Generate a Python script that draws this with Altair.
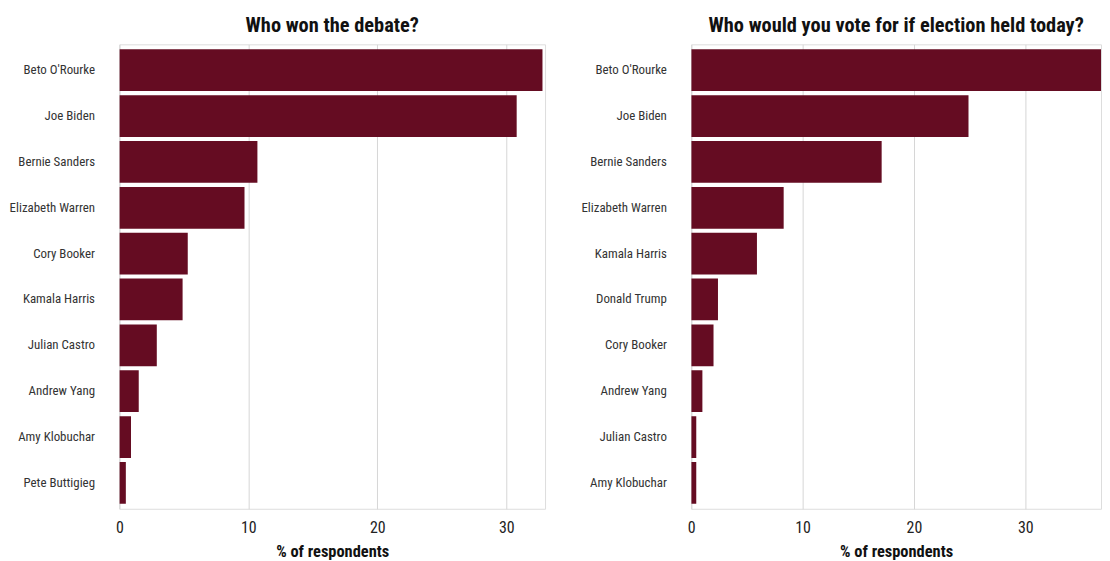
import altair as alt
import pandas as pd

debate_names = ["Beto O'Rourke", "Joe Biden", "Bernie Sanders", "Elizabeth Warren", "Cory Booker",
                "Kamala Harris", "Julian Castro", "Andrew Yang", "Amy Klobuchar", "Pete Buttigieg"]
debate_vals = [32.8, 30.8, 10.7, 9.7, 5.3, 4.9, 2.9, 1.5, 0.9, 0.5]

vote_names = ["Beto O'Rourke", "Joe Biden", "Bernie Sanders", "Elizabeth Warren", "Kamala Harris",
              "Donald Trump", "Cory Booker", "Andrew Yang", "Julian Castro", "Amy Klobuchar"]
vote_vals = [38.5, 24.9, 17.1, 8.3, 5.9, 2.4, 2.0, 1.0, 0.45, 0.45]

FONT = "Roboto Condensed, Liberation Sans Narrow, DejaVu Sans Condensed, sans-serif"
BAR = "#650c22"


def panel(names, vals, title, domain_max, width):
    df = pd.DataFrame({"name": names, "pct": vals})
    return alt.Chart(df).mark_bar(color=BAR, clip=True).encode(
        x=alt.X("pct:Q", title="% of respondents",
                scale=alt.Scale(domain=[0, domain_max], nice=False, zero=True),
                axis=alt.Axis(values=[0, 10, 20, 30], grid=True, gridColor="#d6d6d6",
                              domain=False, ticks=False, labelFontSize=16, labelColor="#222",
                              labelPadding=11, labelFlush=False, titleFontSize=16.5,
                              titleFontWeight="bold", titlePadding=8, titleColor="#111",
                              labelFont=FONT, titleFont=FONT)),
        y=alt.Y("name:N", sort=names, title=None,
                scale=alt.Scale(paddingInner=0.09, paddingOuter=0.11),
                axis=alt.Axis(domain=False, ticks=False, labelFontSize=13, labelColor="#333",
                              labelPadding=25, minExtent=107, maxExtent=107, labelFont=FONT,
                              labelLimit=200)),
    ).properties(
        width=width, height=467,
        title=alt.TitleParams(title, fontSize=20.5, fontWeight="bold", font=FONT, color="#111",
                              anchor="middle", offset=8),
    )


left = panel(debate_names, debate_vals, "Who won the debate?", 33.0, 428)
right = panel(vote_names, vote_vals, "Who would you vote for if election held today?", 36.8, 412)

chart = alt.hconcat(left, right, spacing=34).configure_view(stroke=None).configure(
    padding={"top": 6, "left": 0, "right": 0, "bottom": 0}, background="white")

chart.save("out.html", embed_options={"renderer": "svg", "actions": False})
